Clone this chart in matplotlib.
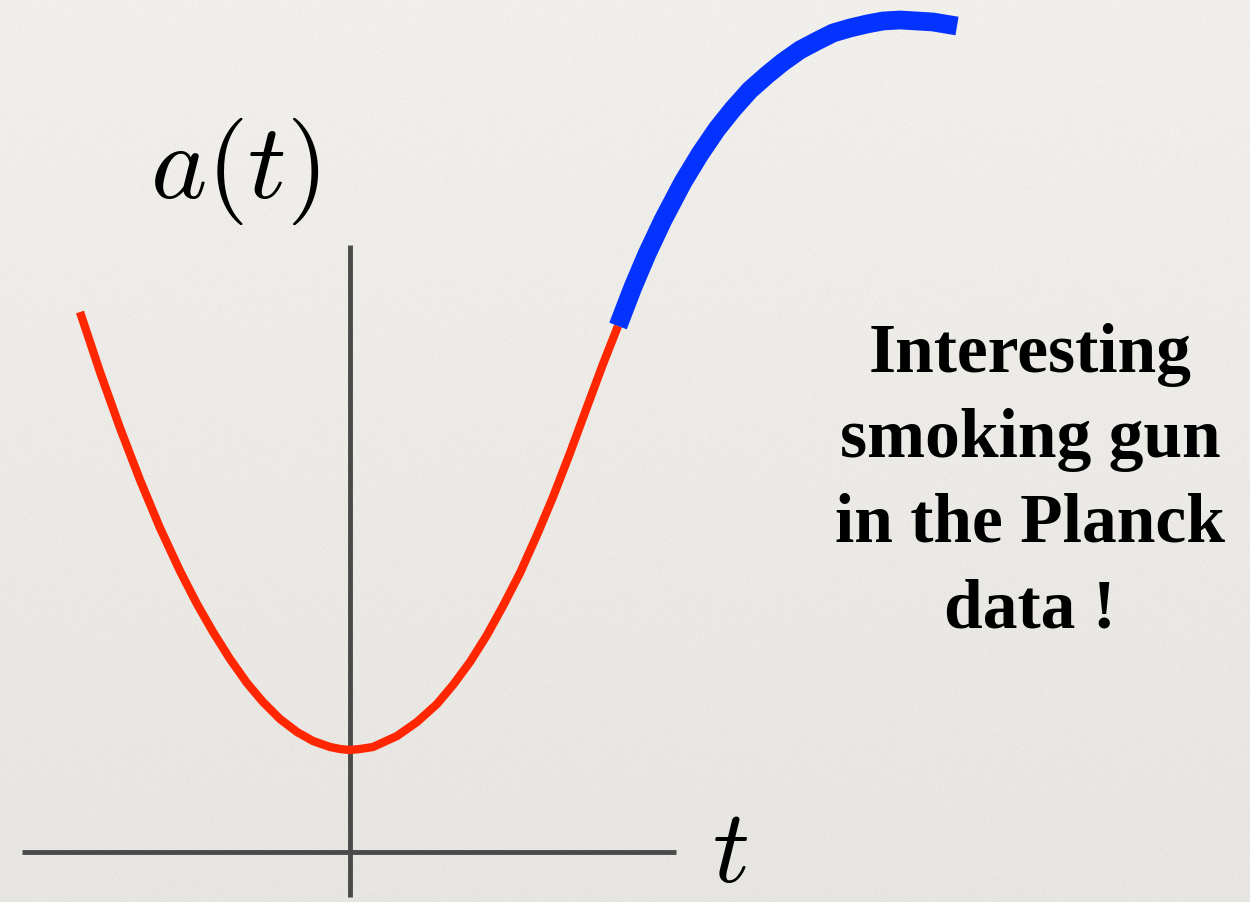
import numpy as np
import matplotlib
matplotlib.use("Agg")
import matplotlib.pyplot as plt

plt.rcParams["mathtext.fontset"] = "cm"

# scale factor a(t): contracting branch, bounce at t = 0, then expansion
red_t = [-2.70, -2.50, -2.30, -2.10, -1.90, -1.70, -1.53, -1.37, -1.20, -1.03,
         -0.87, -0.70, -0.53, -0.37, -0.20, -0.10, 0.00, 0.10, 0.23, 0.47, 0.67, 0.87,
         1.03, 1.20, 1.37, 1.53, 1.70, 1.87, 2.03, 2.20, 2.37, 2.53, 2.68]
red_a = [5.40, 4.80, 4.24, 3.72, 3.24, 2.81, 2.48, 2.20, 1.93, 1.69,
         1.50, 1.33, 1.20, 1.11, 1.05, 1.03, 1.02, 1.03, 1.05, 1.16, 1.30, 1.48,
         1.67, 1.90, 2.17, 2.46, 2.79, 3.17, 3.55, 3.99, 4.45, 4.88, 5.26]

# late-time part that the data constrains
blue_t = [2.68, 2.83, 2.97, 3.13, 3.33, 3.50, 3.67, 3.83, 4.00, 4.17, 4.33,
          4.50, 4.67, 4.83, 5.00, 5.17, 5.33, 5.50, 5.67, 5.83, 6.07]
blue_a = [5.26, 5.65, 5.98, 6.32, 6.70, 6.98, 7.23, 7.43, 7.62, 7.77, 7.90,
          8.02, 8.11, 8.19, 8.24, 8.28, 8.31, 8.32, 8.31, 8.30, 8.26]

t_axis = [-3.28, 3.26]
a_axis = [-0.45, 6.07]

note_lines = ["Interesting", "smoking gun", "in the Planck", "data !"]
note_base = [4.80, 3.95, 3.10, 2.25]

fig = plt.figure(figsize=(12.5, 9.02), dpi=100)
ax = fig.add_axes([0, 0, 1, 1])
ax.set_xlim(-3.5, 9.0)
ax.set_ylim(-0.5, 8.52)
ax.axis("off")

# paper-like background
h, w = 902, 1250
rng = np.random.default_rng(3)
grad = np.linspace(0.945, 0.905, h)[:, None] * np.ones((1, w))
grain = rng.normal(0, 0.006, (h, w))
base = np.clip(grad + grain, 0, 1)
bg = np.dstack([base, base * 0.993, base * 0.975])
ax.imshow(bg, extent=[-3.5, 9.0, -0.5, 8.52], aspect="auto", zorder=0)

ax.plot(t_axis, [0, 0], color="#4a4a4a", lw=3.5, solid_capstyle="butt", zorder=1)
ax.plot([0, 0], a_axis, color="#4a4a4a", lw=3.5, solid_capstyle="butt", zorder=1)

ax.plot(red_t, red_a, color="#ff2600", lw=6.0, solid_capstyle="butt",
        solid_joinstyle="round", zorder=2)
ax.plot(blue_t, blue_a, color="#0433ff", lw=13.5, solid_capstyle="butt",
        solid_joinstyle="round", zorder=3)

ax.text(-1.15, 6.54, r"$a(t)$", fontsize=77, ha="center", va="baseline", color="black")
ax.text(3.80, -0.30, r"$t$", fontsize=74, ha="center", va="baseline", color="black")

for line, y in zip(note_lines, note_base):
    ax.text(6.80, y, line, fontsize=50, fontweight="bold", family="Liberation Serif",
            ha="center", va="baseline", color="black")

fig.savefig("out.png", dpi=100)
